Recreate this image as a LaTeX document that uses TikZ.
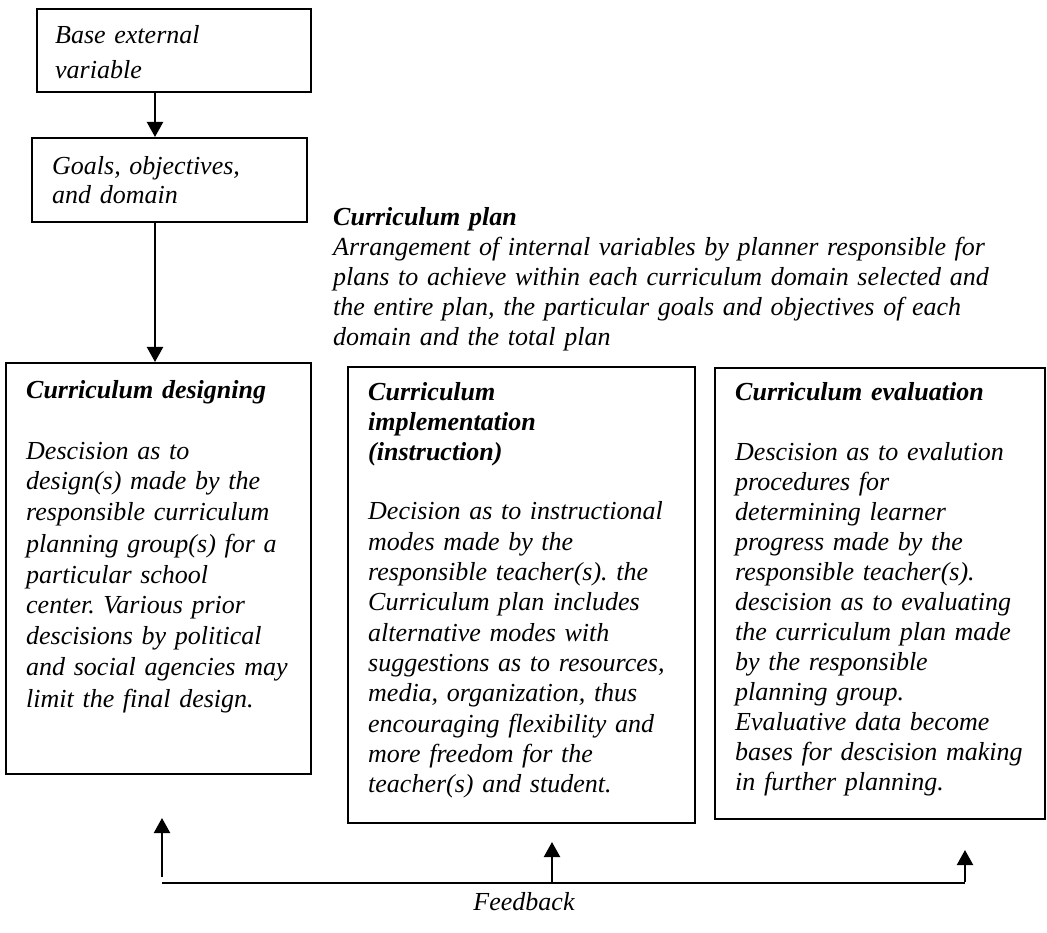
\documentclass[tikz,border=0pt]{standalone}
\usepackage{fontspec}
\setmainfont{Liberation Serif}
\usetikzlibrary{arrows.meta}
\frenchspacing

\tikzset{
  box/.style={draw, line width=1.6pt, rectangle, inner sep=0pt, anchor=north west},
  txt/.style={anchor=base west, inner sep=0pt, text width=700pt, align=left,
              font=\fontsize{26}{30}\selectfont\itshape},
  arr/.style={line width=2.2pt, -{Triangle[width=16pt,length=15pt]}},
  fbline/.style={line width=2pt}
}

\begin{document}
\begin{tikzpicture}[x=1pt, y=-1pt]
\useasboundingbox (0,0) rectangle (1047,933);

% boxes
\node[box, minimum width=274pt, minimum height=83pt]  (base)   at (36,8)    {};
\node[box, minimum width=275pt, minimum height=84pt]  (goals)  at (31,137)  {};
\node[box, minimum width=305pt, minimum height=411pt] (design) at (5,362)   {};
\node[box, minimum width=347pt, minimum height=456pt] (impl)   at (347,366) {};
\node[box, minimum width=330pt, minimum height=451pt] (eval)   at (714,367) {};

% box texts
\node[txt, font=\fontsize{26}{35}\selectfont\itshape] (baseT) at (55,44)
  {Base external\\variable};
\node[txt, font=\fontsize{26}{29}\selectfont\itshape] (goalsT) at (52,175)
  {Goals, objectives,\\and domain};

\node[txt, font=\fontsize{26}{30}\selectfont\itshape] (planT) at (333,226)
  {\textbf{Curriculum plan}\\
   Arrangement of internal variables by planner responsible for\\
   plans to achieve within each curriculum domain selected and\\
   the entire plan, the particular goals and objectives of each\\
   domain and the total plan};

\node[txt, font=\fontsize{26}{31}\selectfont\itshape] (designT) at (26,398)
  {\textbf{Curriculum designing}\\[30pt]
   Descision as to\\
   design(s) made by the\\
   responsible curriculum\\
   planning group(s) for a\\
   particular school\\
   center. Various prior\\
   descisions by political\\
   and social agencies may\\
   limit the final design.};

\node[txt, font=\fontsize{26}{30.3}\selectfont\itshape] (implT) at (368,400)
  {\textbf{Curriculum}\\
   \textbf{implementation}\\
   \textbf{(instruction)}\\[29pt]
   Decision as to instructional\\
   modes made by the\\
   responsible teacher(s). the\\
   Curriculum plan includes\\
   alternative modes with\\
   suggestions as to resources,\\
   media, organization, thus\\
   encouraging flexibility and\\
   more freedom for the\\
   teacher(s) and student.};

\node[txt, font=\fontsize{26}{30}\selectfont\itshape] (evalT) at (735,400)
  {\textbf{Curriculum evaluation}\\[30pt]
   Descision as to evalution\\
   procedures for\\
   determining learner\\
   progress made by the\\
   responsible teacher(s).\\
   descision as to evaluating\\
   the curriculum plan made\\
   by the responsible\\
   planning group.\\
   Evaluative data become\\
   bases for descision making\\
   in further planning.};

% downward flow
\coordinate (spine) at (155,0);
\draw[arr] (base.south -| spine) -- (goals.north -| spine);
\draw[arr] (goals.south -| spine) -- (design.north -| spine);

% feedback loop
\coordinate (fbL)  at (162,883);
\coordinate (fbLs) at (162,877);
\coordinate (fbLt) at (162,818);
\coordinate (fbM)  at (552,883);
\coordinate (fbMt) at (552,842);
\coordinate (fbR)  at (965,883);
\coordinate (fbRt) at (965,850);

\draw[fbline] (fbL) -- (fbR);
\draw[arr] (fbLs) -- (fbLt);
\draw[arr] (fbM) -- (fbMt);
\draw[arr] ([yshift=1pt]fbR) -- (fbRt);

\node[anchor=base, inner sep=0pt, font=\fontsize{26}{30}\selectfont\itshape]
  (fbT) at (524,910) {Feedback};
\end{tikzpicture}
\end{document}
